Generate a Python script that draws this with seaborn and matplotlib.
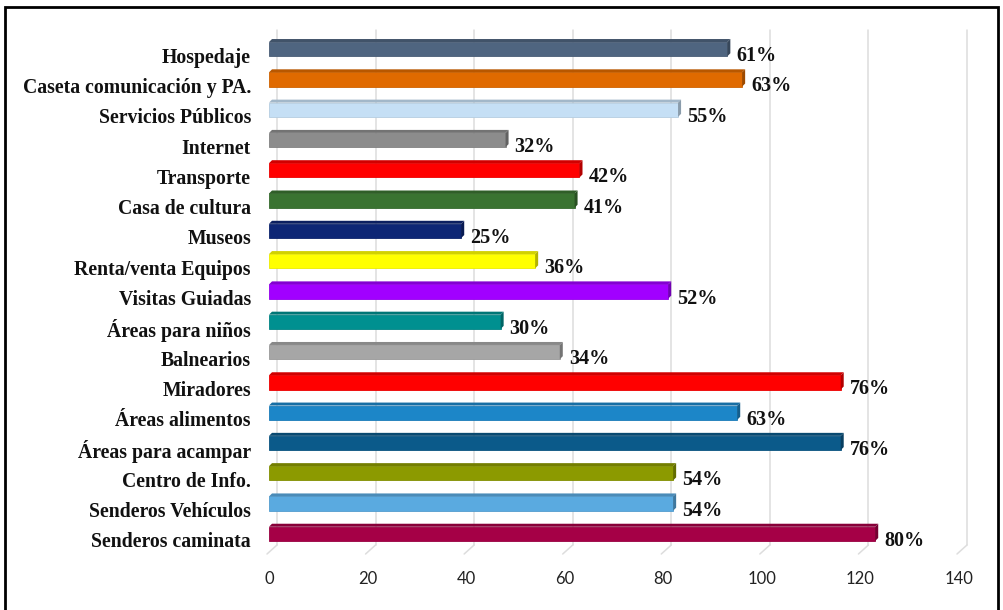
import matplotlib
matplotlib.use("Agg")
import matplotlib.pyplot as plt
import matplotlib.transforms as mtransforms
import seaborn as sns
import pandas as pd
import numpy as np
from matplotlib.patches import Polygon, Rectangle
from matplotlib.colors import to_rgb

categories = [
    "Hospedaje", "Caseta comunicación y PA.", "Servicios Públicos", "Internet",
    "Transporte", "Casa de cultura", "Museos", "Renta/venta Equipos",
    "Visitas Guiadas", "Áreas para niños", "Balnearios", "Miradores",
    "Áreas alimentos", "Áreas para acampar", "Centro de Info.",
    "Senderos Vehículos", "Senderos caminata",
]
counts = [93, 96, 83, 48, 63, 62, 39, 54, 81, 47, 59, 116, 95, 116, 82, 82, 123]
percent_labels = ["61%", "63%", "55%", "32%", "42%", "41%", "25%", "36%", "52%",
                  "30%", "34%", "76%", "63%", "76%", "54%", "54%", "80%"]
colors = ["#4F6580", "#E06A00", "#C5DFF5", "#8C8C8C", "#FF0000", "#3A7331",
          "#0D2675", "#FFFF00", "#A100FF", "#009090", "#A6A6A6", "#FF0000",
          "#1C86C8", "#0B5A8A", "#8C9A00", "#5AAAE0", "#A50046"]
x_ticks = [0, 20, 40, 60, 80, 100, 120, 140]

df = pd.DataFrame({"categoria": categories, "valor": counts})

sns.set_theme(style="white")
plt.rcParams["font.family"] = ["DejaVu Sans"]

W, H = 1004, 610
fig = plt.figure(figsize=(W / 100, H / 100), dpi=100)
fig.patch.set_facecolor("white")

# outer frame
fig.add_artist(Rectangle((5 / W, -0.02), (998 - 5) / W, (H - 7) / H + 0.02,
                         transform=fig.transFigure, fill=False,
                         edgecolor="black", linewidth=2))

x0, x1 = 269, 959
y_top, y_bot = 34, 549
ax = fig.add_axes([x0 / W, 1 - y_bot / H, (x1 - x0) / W, (y_bot - y_top) / H])

sns.barplot(data=df, x="valor", y="categoria", hue="categoria",
            palette=colors, legend=False, orient="h", width=0.47,
            saturation=1, ax=ax, zorder=3)

ax.set_xlim(0, 140)
ax.set_ylim(len(categories) - 0.5, -0.5)
for s in ax.spines.values():
    s.set_visible(False)
ax.set_xlabel("")
ax.set_ylabel("")
ax.set_xticks(x_ticks)
ax.set_xticklabels([str(t) for t in x_ticks], fontsize=12, color="#222222",
                   family="Lato")
ax.tick_params(axis="x", length=0, pad=16)
ax.tick_params(axis="y", length=0, pad=13)
shift_down = mtransforms.ScaledTranslation(0, -6 / 100, fig.dpi_scale_trans)
for lbl in ax.get_yticklabels():
    lbl.set_fontfamily("Liberation Serif")
    lbl.set_fontweight("bold")
    lbl.set_fontsize(14.2)
    lbl.set_color("#111111")
    lbl.set_transform(lbl.get_transform() + shift_down)

# pixel -> data conversion
pxx = 140 / (x1 - x0)
pxy = len(categories) / (y_bot - y_top)

# back-wall gridlines and floor edges
depth_x = 8 * pxx
for t in x_ticks:
    ax.plot([t + depth_x, t + depth_x], [-0.5 - 4 * pxy, 16.5 - 4 * pxy],
            color="#DDDDDD", lw=1.1, zorder=1, clip_on=False)
    ax.plot([t + depth_x, t - 2 * pxx], [16.5 - 4 * pxy, 16.5 + 5 * pxy],
            color="#DDDDDD", lw=1.1, zorder=1, clip_on=False)


def shade(c, f):
    r, g, b = to_rgb(c)
    return (r * f, g * f, b * f)


# 3D faces on each bar
d = 3
for patch, col, lab in zip(ax.patches, colors, percent_labels):
    bx = patch.get_x()
    by = patch.get_y()
    bw = patch.get_width()
    bh = patch.get_height()
    patch.set_edgecolor(shade(col, 0.92))
    patch.set_linewidth(0.6)
    top = by
    dx, dy = d * pxx, d * pxy
    ax.add_patch(Polygon([(bx, top), (bx + bw, top), (bx + bw + dx, top - dy),
                          (bx + dx, top - dy)], closed=True,
                         facecolor=shade(col, 0.82), edgecolor="none",
                         zorder=3, clip_on=False))
    ax.add_patch(Polygon([(bx + bw, top), (bx + bw, top + bh),
                          (bx + bw + dx, top + bh - dy), (bx + bw + dx, top - dy)],
                         closed=True, facecolor=shade(col, 0.7),
                         edgecolor="none", zorder=3, clip_on=False))
    ax.text(bx + bw + 9 * pxx, by + bh / 2 + 7 * pxy, lab,
            ha="left", va="center", fontsize=14.5, fontweight="bold",
            family="Liberation Serif", color="#111111", zorder=4)

fig.savefig("out.png", dpi=100, facecolor="white")
